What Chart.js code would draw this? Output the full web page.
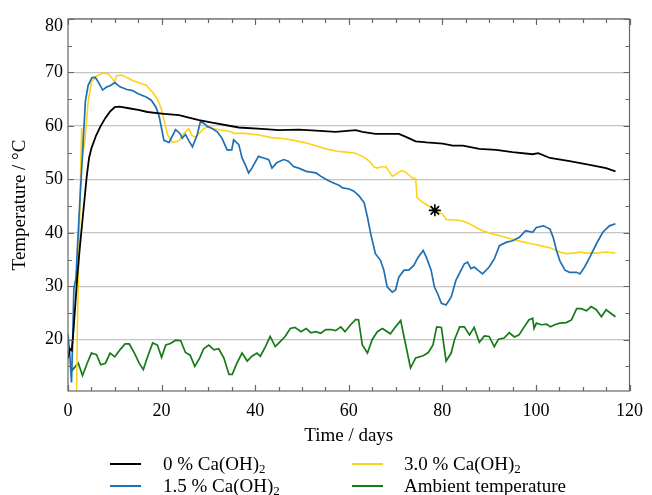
<!DOCTYPE html>
<html>
<head>
<meta charset="utf-8">
<script src="https://cdn.jsdelivr.net/npm/chart.js@4/dist/chart.umd.min.js"></script>
<style>
  html, body { margin: 0; padding: 0; background: #fff; }
  #wrap { position: relative; width: 652px; height: 495px; overflow: hidden; font-family: "Liberation Serif", "Times New Roman", serif; }
  #c { position: absolute; left: 0; top: 0; }
  .li { position: absolute; height: 22px; line-height: 22px; font-size: 19px; color: #000; white-space: nowrap; }
  .li sub { font-size: 0.68em; vertical-align: -0.22em; line-height: 0; }
  .sw { position: absolute; height: 2px; width: 31px; }
</style>
</head>
<body>
<div id="wrap">
  <canvas id="c" width="652" height="495"></canvas>
</div>
<script>
// ---- data (day, temperature in °C) ----
const seriesNames = ['0 % Ca(OH)2', '1.5 % Ca(OH)2', '3.0 % Ca(OH)2', 'Ambient temperature'];
const seriesColors = ['#000000', '#1f6fb5', '#ffd21a', '#167a16'];

const black0 = [[0,16.5],[0.4,18.3],[0.8,18],[1.2,22],[1.6,27],[2.0,32],[2.5,37],[3.0,41.5],[3.5,46],[4.0,50.5],[4.5,54],[5.0,55.8],[6.0,58.2],[7.0,60],[8.0,61.5],[9.0,62.7],[10.0,63.5],[11.0,63.6],[13,63.3],[15,63],[17,62.6],[20,62.3],[23.7,62.0],[28,61.1],[30.8,60.6],[36.5,59.7],[42.2,59.4],[45,59.2],[49.3,59.3],[53,59.1],[57.2,58.9],[61.5,59.2],[62.9,58.9],[65.7,58.5],[70.7,58.5],[72.1,58],[74.3,57.1],[76.6,56.9],[80.1,56.7],[82.2,56.3],[84.4,56.3],[87.9,55.7],[91.5,55.5],[95,55.1],[99.3,54.7],[100.5,54.9],[103,54.0],[107.2,53.4],[111.5,52.7],[115,52.1],[117,51.5]];

const blue15 = [[0,21],[0.4,17],[0.75,12],[1.0,20],[1.25,29.5],[1.7,31.5],[2.0,37],[2.6,47],[3.1,54.6],[3.7,64.5],[4.3,67.6],[5.1,69],[5.8,69.1],[6.5,68.2],[7.4,66.7],[8.3,67.3],[9.0,67.5],[10.0,68.1],[11.1,67.3],[12.6,66.8],[13.8,66.6],[15,66],[16.7,65.4],[17.8,64.8],[18.8,63.5],[19.5,61.7],[20.5,57.3],[21.6,56.9],[23.0,59.3],[24.0,58.5],[24.4,57.7],[25.1,58.4],[25.9,57.1],[26.6,56.1],[27.6,58.3],[28.3,60.8],[29,60.5],[29.8,59.9],[30.8,59.5],[31.9,58.9],[32.9,57.7],[34,55.5],[35,55.5],[35.4,57.4],[36.5,56.5],[37.2,54],[37.9,52.7],[38.6,51.2],[39.3,52.1],[40.7,54.3],[41.8,54],[42.9,53.7],[43.6,52.1],[44.6,53.1],[46.1,53.7],[47.1,53.4],[48.2,52.4],[49.3,52.1],[50.9,51.5],[53,51.2],[54,50.6],[55.1,50],[56.5,49.4],[57.9,48.9],[58.7,48.4],[60.1,48.2],[61.1,47.8],[62.2,46.9],[63.3,45.6],[64,42.9],[64.7,39.8],[65.7,36.1],[66.8,34.8],[67.5,33],[68.2,29.9],[69.3,28.9],[70,29.3],[70.7,31.7],[71.8,33],[72.8,33],[73.9,33.9],[74.8,35.4],[75.9,36.7],[76.6,35.4],[77.6,33],[78.3,29.9],[79,28.6],[79.8,26.8],[80.8,26.5],[81.9,28],[82.9,31.1],[84,33],[84.7,34.2],[85.4,34.5],[86.1,33.3],[86.8,33.6],[87.6,33],[88.6,32.3],[90,33.6],[91.1,35.1],[92.2,37.6],[93.6,38.2],[95,38.5],[96.4,39.1],[97.8,40.4],[99.3,40.1],[100.1,41],[101.6,41.3],[103,40.7],[103.7,39.1],[104.4,36.7],[105.1,34.8],[106.2,33],[107.2,32.6],[108.7,32.6],[109.4,32.3],[110.4,33.6],[111.5,35.4],[112.9,37.9],[114.3,40.1],[115.7,41.3],[117,41.7]];

const yellow30 = [[1.75,5],[2.0,22],[2.3,35],[2.6,47],[2.9,59.6],[3.2,54.9],[3.6,57],[4.3,64.5],[5.0,68.2],[6.1,69.3],[7.5,69.9],[8.6,69.7],[9.6,68.8],[10.0,68.0],[10.3,69.4],[11.4,69.5],[12.5,69.1],[13.8,68.5],[16.7,67.6],[18.1,66.3],[19.2,64.8],[19.9,63.3],[20.6,60.8],[21.3,58.3],[22.3,56.9],[23.7,57.2],[24.8,58.6],[25.8,59.5],[26.5,58.2],[27.3,57.9],[28,58.6],[29,59.5],[30.1,59.9],[30.8,59.5],[32.9,59.2],[35,58.9],[35.4,58.6],[37.9,58.6],[40.7,58.3],[43.6,57.8],[46.4,57.6],[49.3,57.1],[50.9,56.8],[53,56.3],[55.1,55.7],[57.2,55.3],[59.4,55.1],[61.5,54.9],[62.9,54.3],[64,53.7],[64.7,53.1],[65.4,52.3],[66.1,52.1],[66.8,52.3],[67.9,52.4],[68.6,51.5],[69.3,50.6],[70,50.9],[71.1,51.6],[71.8,51.5],[72.8,50.9],[73.5,50.3],[74.3,50.1],[74.6,46.6],[75.5,45.9],[76.6,45.3],[77.6,44.7],[78.3,44.1],[80.1,43.5],[80.8,42.5],[82.9,42.4],[84.4,42.2],[85.8,41.7],[87.2,41],[88.6,40.4],[90.7,39.8],[92.9,39.3],[95,38.8],[97.1,38.3],[99.3,37.9],[100.9,37.6],[103,37.2],[105.1,36.4],[106.5,36.1],[108,36.2],[109.4,36.4],[110.8,36.2],[112.9,36.2],[115,36.4],[117,36.2]];

const ambient = [[0.6,15.2],[0.9,14.3],[2.2,15.6],[3.1,13.3],[4.1,15.6],[5.0,17.5],[6.1,17.2],[7.0,15.3],[8.0,15.6],[9.0,17.5],[10.0,16.8],[11.1,18.1],[12.2,19.2],[13.1,19.2],[14.2,17.5],[15.2,15.6],[16.1,14.4],[17.0,16.8],[18.1,19.4],[19.1,19.0],[20.0,16.7],[20.9,19.0],[21.9,19.3],[23.0,19.9],[24.1,19.8],[25.1,17.6],[26.1,17.1],[27.1,15.0],[28.1,16.5],[29.0,18.3],[30.1,19.0],[31.2,18.1],[32.2,18.3],[33.3,16.6],[34.4,13.5],[35.1,13.5],[36.1,15.6],[37.2,17.5],[38.3,16.0],[39.3,16.9],[40.4,17.5],[41.1,16.9],[42.2,18.7],[43.2,20.6],[44.3,18.7],[45.4,19.7],[46.4,20.6],[47.5,22.1],[48.5,22.3],[49.8,21.5],[50.9,22.1],[51.9,21.3],[53,21.5],[54,21.2],[55.1,21.9],[56.2,21.9],[57.2,21.7],[58.3,22.4],[59.2,21.5],[60.4,22.8],[61.5,23.8],[62.1,23.7],[62.9,19],[64,17.5],[65,20],[66.1,21.5],[67.2,22.1],[68.9,21.1],[70,22.4],[71.1,23.6],[71.8,20.6],[73.2,14.7],[74.3,16.6],[75.9,17],[77,17.6],[78,19],[78.8,22.4],[79.8,22.3],[80.8,16],[81.9,17.5],[82.6,20],[83.7,22.4],[84.7,22.4],[85.8,20.9],[86.8,22.3],[87.9,19.5],[89,20.7],[90,20.6],[91.1,18.7],[92,20.1],[93.2,20.3],[94.3,21.3],[95.4,20.5],[96.4,20.9],[97.5,22.4],[98.5,23.7],[99.3,24],[99.6,22.1],[100.1,23.1],[101.2,22.8],[102.3,22.9],[103.1,22.4],[104,22.8],[105.1,23.1],[106.5,23.2],[107.6,23.7],[108.7,25.8],[109.7,25.8],[110.8,25.4],[111.8,26.2],[112.9,25.6],[114,24.3],[115,25.6],[117,24.3]];

const markerPoint = [[78.4,44.2]];   // asterisk on the 3.0 % curve

const xTicks = [0, 20, 40, 60, 80, 100, 120];
const yTicks = [20, 30, 40, 50, 60, 70, 80];
const xRange = [0, 120];
const yRange = [10.4, 80];

// ---- chart ----
const FONT = '"Liberation Serif", "Times New Roman", serif';
const toXY = arr => arr.map(p => ({ x: p[0], y: p[1] }));

const frame = {
  id: 'frame',
  afterDatasetsDraw(chart) {
    const { ctx, chartArea: a, scales: { x, y } } = chart;
    ctx.save();
    ctx.strokeStyle = '#666';
    ctx.lineWidth = 1.2;
    ctx.beginPath();
    for (let v = xRange[0]; v <= xRange[1]; v += 5) {
      const px = Math.round(x.getPixelForValue(v)) + 0.5;
      const len = xTicks.includes(v) ? 6 : 4;
      ctx.moveTo(px, a.bottom); ctx.lineTo(px, a.bottom - len);
      ctx.moveTo(px, a.top); ctx.lineTo(px, a.top + len);
    }
    for (let v = 15; v <= yRange[1]; v += 5) {
      const py = Math.round(y.getPixelForValue(v)) + 0.5;
      const len = yTicks.includes(v) ? 6 : 4;
      ctx.moveTo(a.left, py); ctx.lineTo(a.left + len, py);
      ctx.moveTo(a.right, py); ctx.lineTo(a.right - len, py);
    }
    ctx.stroke();
    ctx.strokeRect(a.left, a.top, a.right - a.left, a.bottom - a.top);
    ctx.restore();
  }
};

const lineDs = (label, data, color, order, width) => ({
  label, data: toXY(data), borderColor: color, backgroundColor: color,
  borderWidth: width, pointRadius: 0, tension: 0, fill: false, order
});

new Chart(document.getElementById('c'), {
  type: 'line',
  data: {
    datasets: [
      lineDs(seriesNames[0], black0, seriesColors[0], 1, 1.8),
      lineDs(seriesNames[1], blue15, seriesColors[1], 2, 1.7),
      lineDs(seriesNames[2], yellow30, seriesColors[2], 3, 1.6),
      lineDs(seriesNames[3], ambient, seriesColors[3], 4, 1.7),
      { type: 'scatter', label: 'marker', data: toXY(markerPoint), pointStyle: 'star',
        pointRadius: 6, borderColor: '#000', backgroundColor: '#000', borderWidth: 1.6, order: 0 }
    ]
  },
  options: {
    responsive: false,
    animation: false,
    events: [],
    layout: { padding: { left: 0, top: 16, right: 17, bottom: 44 } },
    plugins: { legend: { display: false }, tooltip: { enabled: false } },
    scales: {
      x: {
        type: 'linear', min: xRange[0], max: xRange[1],
        afterFit: s => { s.height = 60; },
        afterBuildTicks: s => { s.ticks = xTicks.map(v => ({ value: v })); },
        grid: { display: false, drawTicks: false },
        border: { display: false },
        ticks: { color: '#000', padding: 9, maxRotation: 0, font: { family: FONT, size: 18 } },
        title: { display: true, text: 'Time / days', color: '#000', padding: { top: 0, bottom: 4 }, font: { family: FONT, size: 19 } }
      },
      y: {
        type: 'linear', min: yRange[0], max: yRange[1],
        afterFit: s => { s.width = 68; },
        afterBuildTicks: s => { s.ticks = yTicks.map(v => ({ value: v })); },
        grid: { color: '#c4c4c4', lineWidth: 1.3, drawTicks: false },
        border: { display: false },
        ticks: {
          color: '#000', padding: 5,
          font: { family: FONT, size: 18, lineHeight: '14px' },
          callback: v => (v === yRange[1] ? ['', String(v)] : String(v))
        },
        title: { display: true, text: 'Temperature / °C', color: '#000', padding: { top: 9, bottom: 0 }, font: { family: FONT, size: 19 } }
      }
    }
  },
  plugins: [frame]
});

// ---- legend (HTML, two columns) ----
const legendLayout = [
  { i: 0, lx: 110, tx: 163, cy: 463.5 },
  { i: 1, lx: 110, tx: 163, cy: 486 },
  { i: 2, lx: 352, tx: 404, cy: 463.5 },
  { i: 3, lx: 352, tx: 404, cy: 486 }
];
const wrap = document.getElementById('wrap');
legendLayout.forEach(l => {
  const sw = document.createElement('div');
  sw.className = 'sw';
  sw.style.left = l.lx + 'px';
  sw.style.top = (l.cy - 1) + 'px';
  sw.style.background = seriesColors[l.i];
  wrap.appendChild(sw);
  const t = document.createElement('div');
  t.className = 'li';
  t.style.left = l.tx + 'px';
  t.style.top = (l.cy - 11) + 'px';
  const name = seriesNames[l.i];
  t.innerHTML = name.endsWith('(OH)2') ? name.slice(0, -1) + '<sub>2</sub>' : name;
  wrap.appendChild(t);
});
</script>
</body>
</html>
